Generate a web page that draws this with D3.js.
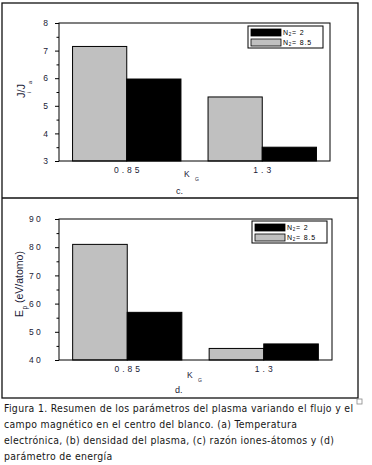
<!DOCTYPE html>
<html><head><meta charset="utf-8">
<script src="https://cdn.jsdelivr.net/npm/d3@7"></script>
<style>body{margin:0;background:#fff}svg{display:block}</style>
</head><body>
<script>
// ---------- data ----------
const categories = ["0.85", "1.3"];
const barOrder = ["N2 = 8.5", "N2 = 2"];          // order of bars inside each group
const ratioN2_85 = [7.15, 5.32];                   // panel c, grey
const ratioN2_2  = [5.97, 3.50];                   // panel c, black
const energyN2_85 = [81.0, 44.1];                  // panel d, grey
const energyN2_2  = [56.9, 45.7];                  // panel d, black
const ratioTicks = [3, 4, 5, 6, 7, 8];
const ratioMinor = [3.5, 4.5, 5.5, 6.5, 7.5];
const energyTicks = [40, 50, 60, 70, 80, 90];
const energyMinor = [45, 55, 65, 75, 85];
const legendValues = ["2", "8.5"];                 // black first, then grey
const captionLines = [
  "Figura 1. Resumen de los parámetros del plasma variando el flujo y el",
  "campo magnético en el centro del blanco. (a) Temperatura",
  "electrónica, (b) densidad del plasma, (c) razón iones-átomos y (d)",
  "parámetro de energía"
];

// ---------- drawing ----------
const W = 372, H = 465;
const FONT = "'Liberation Sans', Arial, sans-serif";
const TXT = "#1a1a36";
const svg = d3.select("body").append("svg").attr("width", W).attr("height", H);

// outer frame
svg.append("rect").attr("x", 2).attr("y", 3).attr("width", 356).attr("height", 395)
  .attr("fill", "none").attr("stroke", "#111").attr("stroke-width", 1.3);
svg.append("line").attr("x1", 2).attr("x2", 358).attr("y1", 198).attr("y2", 198)
  .attr("stroke", "#111").attr("stroke-width", 1.3);

function panel(o) {
  const x = d3.scaleBand().domain(categories).range([o.left, o.right])
    .paddingInner(0.2).paddingOuter(0.1);
  const xs = d3.scaleBand().domain(barOrder).range([0, x.bandwidth()]);
  const y = d3.scaleLinear().domain(o.domain).range([o.bottom, o.top]);
  const g = svg.append("g");

  const rows = [];
  categories.forEach((c, i) => {
    rows.push({cat: c, s: barOrder[0], v: o.grey[i], fill: "#c0c0c0"});
    rows.push({cat: c, s: barOrder[1], v: o.black[i], fill: "#000"});
  });
  g.selectAll("rect.bar").data(rows).join("rect").attr("class", "bar")
    .attr("x", d => x(d.cat) + xs(d.s)).attr("y", d => y(d.v))
    .attr("width", xs.bandwidth()).attr("height", d => y(o.domain[0]) - y(d.v))
    .attr("fill", d => d.fill).attr("stroke", "#000").attr("stroke-width", 1);

  // plot box
  g.append("rect").attr("x", o.left).attr("y", o.top)
    .attr("width", o.right - o.left).attr("height", o.bottom - o.top)
    .attr("fill", "none").attr("stroke", "#000").attr("stroke-width", 1);

  // y axis
  const ya = g.append("g").attr("transform", `translate(${o.left},0)`)
    .call(d3.axisLeft(y).tickValues(o.ticks).tickSize(4).tickPadding(o.pad).tickFormat(d => d));
  ya.select(".domain").remove();
  ya.selectAll("line").attr("stroke", "#000");
  ya.selectAll("text").attr("font-family", FONT).attr("font-size", 8.5)
    .attr("fill", TXT).style("letter-spacing", o.tickSpacing + "px");
  const ym = g.append("g").attr("transform", `translate(${o.left},0)`)
    .call(d3.axisLeft(y).tickValues(o.minor).tickSize(2.5).tickFormat(""));
  ym.select(".domain").remove();
  ym.selectAll("line").attr("stroke", "#000");

  // x category labels
  g.selectAll("text.cat").data(categories).join("text").attr("class", "cat")
    .attr("x", d => x(d) + x.bandwidth() / 2 + 1.5).attr("y", o.bottom + 12)
    .attr("text-anchor", "middle").attr("font-family", FONT).attr("font-size", 8.5)
    .attr("fill", TXT).style("letter-spacing", "3px").text(d => d);

  // x title K_G
  g.append("text").attr("x", o.kx).attr("y", o.ky).attr("font-family", FONT)
    .attr("font-size", 8.5).attr("fill", TXT).text("K");
  g.append("text").attr("x", o.kx + 11).attr("y", o.ky + 4).attr("font-family", FONT)
    .attr("font-size", 5).attr("fill", TXT).text("G");
  // panel letter
  g.append("text").attr("x", o.lx).attr("y", o.ly).attr("font-family", FONT)
    .attr("font-size", 9).attr("fill", TXT).text(o.letter);

  // legend
  const lg = g.append("g").attr("transform", `translate(${o.legX},${o.legY})`);
  lg.append("rect").attr("width", 75).attr("height", 22).attr("fill", "#fff")
    .attr("stroke", "#000").attr("stroke-width", 1);
  const fills = ["#000", "#c0c0c0"];
  legendValues.forEach((v, i) => {
    lg.append("rect").attr("x", 3).attr("y", 3 + i * 10).attr("width", 30).attr("height", 7)
      .attr("fill", fills[i]).attr("stroke", "#000").attr("stroke-width", 0.8);
    const t = lg.append("text").attr("x", 35).attr("y", 8.5 + i * 10)
      .attr("font-family", FONT).attr("font-size", 7).attr("fill", "#000");
    t.append("tspan").text("N");
    t.append("tspan").attr("font-size", 4.5).attr("dy", 1.5).attr("dx", 0.8).text("2");
    t.append("tspan").attr("dy", -1.5).attr("dx", 0.5).style("letter-spacing", "0.9px").text("= " + v);
  });
  return g;
}

// panel c
const gc = panel({
  left: 59, right: 330, top: 23, bottom: 161, domain: [3, 8],
  ticks: ratioTicks, minor: ratioMinor, pad: 7, tickSpacing: 0,
  grey: ratioN2_85, black: ratioN2_2,
  kx: 184, ky: 177, lx: 176, ly: 194, letter: "c.",
  legX: 248, legY: 26
});
// y title J/J
const jt = gc.append("g").attr("transform", "translate(25,91) rotate(-90)");
jt.append("text").attr("text-anchor", "middle").attr("font-family", FONT)
  .attr("font-size", 11).attr("fill", TXT).text("J/J");
jt.append("text").attr("x", -2).attr("y", 6).attr("font-family", FONT)
  .attr("font-size", 6).attr("fill", TXT).text("i");
jt.append("text").attr("x", 7).attr("y", 6.5).attr("font-family", FONT)
  .attr("font-size", 6).attr("fill", TXT).text("a");

// panel d
const gd = panel({
  left: 59, right: 332, top: 219, bottom: 360, domain: [40, 90],
  ticks: energyTicks, minor: energyMinor, pad: 12, tickSpacing: 2.3,
  grey: energyN2_85, black: energyN2_2,
  kx: 187, ky: 378, lx: 175, ly: 393, letter: "d.",
  legX: 252, legY: 221
});
const et = gd.append("g").attr("transform", "translate(23,317) rotate(-90)");
et.append("text").attr("font-family", FONT).attr("font-size", 10.5).attr("fill", TXT).text("E");
et.append("text").attr("x", 7.5).attr("y", 4).attr("font-family", FONT)
  .attr("font-size", 6.5).attr("fill", TXT).text("p");
et.append("text").attr("x", 14).attr("font-family", FONT).attr("font-size", 10.5)
  .attr("fill", TXT).text("(eV/atomo)");

// caption
const CF = "'DejaVu Sans Condensed', 'DejaVu Sans', sans-serif";
const cap = svg.append("g");
const capTexts = cap.selectAll("text").data(captionLines).join("text")
  .attr("x", 4).attr("y", (d, i) => 412 + i * 16)
  .attr("font-family", CF).attr("font-size", 10.4).attr("fill", "#161616").text(d => d);
// uniform letter spacing so that the first line spans its width in the picture
const n0 = capTexts.node();
const w0 = n0.getComputedTextLength();
const ls = (349 - w0) / (captionLines[0].length - 1);
capTexts.style("letter-spacing", ls + "px");
// small anchor box
svg.append("rect").attr("x", 357).attr("y", 399).attr("width", 5).attr("height", 5)
  .attr("fill", "#fff").attr("stroke", "#888").attr("stroke-width", 0.8);
</script>
</body></html>
